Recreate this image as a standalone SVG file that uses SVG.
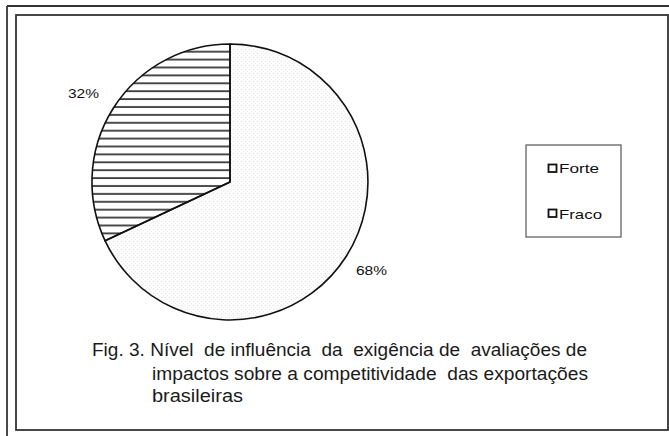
<svg xmlns="http://www.w3.org/2000/svg" width="669" height="436" viewBox="0 0 669 436">
<style>
.frame{fill:none;stroke:#333;stroke-width:1.8}
.slice{stroke:#111;stroke-width:1.6;stroke-linejoin:round}
.lbl{font-family:"Liberation Sans",Arial,sans-serif;fill:#111;white-space:pre}
.cap{font-family:"Liberation Sans",Arial,sans-serif;font-size:17.5px;fill:#1a1a1a;white-space:pre}
.sw{fill:#fff;stroke:#111;stroke-width:1.8}
</style>
<defs>
<pattern id="hatch" patternUnits="userSpaceOnUse" x="0" y="0.3" width="10" height="7.9">
<line x1="0" y1="4" x2="10" y2="4" stroke="#111" stroke-width="1.5"/>
</pattern>
<pattern id="dots" patternUnits="userSpaceOnUse" width="4" height="4">
<rect width="4" height="4" fill="#fcfcfc"/>
<rect x="1" y="1" width="1" height="1" fill="#e4e4e4"/>
<rect x="3" y="3" width="1" height="1" fill="#efefef"/>
</pattern>
</defs>
<rect width="669" height="436" fill="#fff"/>
<g id="frame">
<line class="frame" x1="7" y1="6" x2="669" y2="6"/>
<line class="frame" x1="7" y1="6" x2="7" y2="436"/>
<rect class="frame" x="16" y="15" width="652" height="415"/>
</g>
<g id="pie">
<path id="forte" class="slice" fill="url(#dots)" d="M230,182 L230,44 A138,138 0 1,1 105.1,240.8 Z"/>
<path id="fraco" class="slice" fill="url(#hatch)" d="M230,182 L230,44 A138,138 0 0,0 105.1,240.8 Z"/>
</g>
<g id="labels">
<text class="lbl" x="68" y="98" font-size="13.5" textLength="31" lengthAdjust="spacingAndGlyphs">32%</text>
<text class="lbl" x="356" y="275" font-size="13.5" textLength="31" lengthAdjust="spacingAndGlyphs">68%</text>
</g>
<g id="legend">
<rect x="526" y="145" width="95" height="92" fill="#fff" stroke="#555" stroke-width="1.2"/>
<rect class="sw" x="548.5" y="164.5" width="8" height="7.5"/>
<text class="lbl" x="559" y="173" font-size="13.5" textLength="40" lengthAdjust="spacingAndGlyphs">Forte</text>
<rect class="sw" x="548.5" y="209.5" width="8" height="7.5"/>
<text class="lbl" x="559" y="219" font-size="13.5" textLength="43" lengthAdjust="spacingAndGlyphs">Fraco</text>
</g>
<g id="caption">
<text class="cap" x="92" y="356" textLength="495" lengthAdjust="spacingAndGlyphs">Fig. 3. Nível  de influência  da  exigência de  avaliações de</text>
<text class="cap" x="152" y="380" textLength="436" lengthAdjust="spacingAndGlyphs">impactos sobre a competitividade  das exportações</text>
<text class="cap" x="152" y="402" textLength="91" lengthAdjust="spacingAndGlyphs">brasileiras</text>
</g>
</svg>
